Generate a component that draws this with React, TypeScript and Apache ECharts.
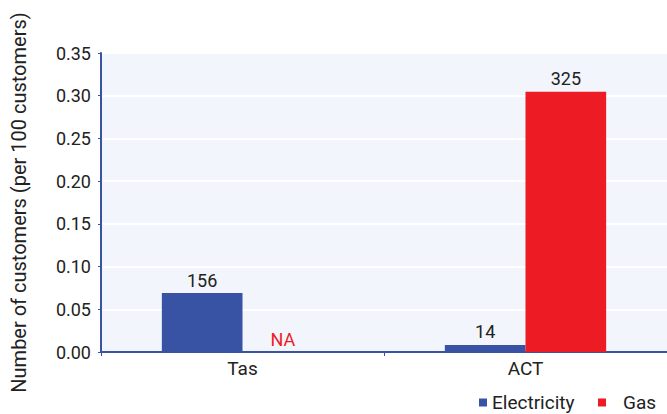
import React, { useEffect, useRef } from "react";
import * as echarts from "echarts";

// Regions on the category axis
const regions = ["Tas", "ACT"];
// Rate per 100 customers (bar heights)
const electricityRate = [0.069, 0.0082];
const gasRate: (number | null)[] = [0, 0.3045];
// Customer counts shown above the bars (null = not available)
const electricityCount: (number | null)[] = [156, 14];
const gasCount: (number | null)[] = [null, 325];
// Value axis ticks
const yMin = 0;
const yMax = 0.35;
const yStep = 0.05;

const BLUE = "#3853a4";
const RED = "#ed1c24";
const FONT = "Roboto, 'DejaVu Sans', sans-serif";

export default function App() {
  const ref = useRef<HTMLDivElement>(null);

  useEffect(() => {
    document.body.style.margin = "0";
    if (!ref.current) return;
    const chart = echarts.init(ref.current, undefined, { renderer: "svg" });

    const countLabel = (counts: (number | null)[]) => ({
      show: true,
      position: "top" as const,
      distance: 4,
      fontFamily: FONT,
      fontSize: 18,
      color: "#222",
      formatter: (p: any) => {
        const c = counts[p.dataIndex];
        return c === null ? "{na|NA}" : String(c);
      },
      rich: { na: { color: RED, fontSize: 18, fontFamily: FONT } },
    });

    const legendText = { fontSize: 19, color: "#222", fontFamily: FONT };

    chart.setOption({
      animation: false,
      textStyle: { fontFamily: FONT },
      grid: {
        left: 101,
        top: 53,
        width: 570,
        height: 299,
        show: true,
        backgroundColor: "#f2f5fb",
        borderWidth: 0,
      },
      legend: [
        {
          data: ["Electricity"],
          left: 474,
          top: 388,
          icon: "rect",
          itemWidth: 8,
          itemHeight: 8,
          textStyle: legendText,
        },
        {
          data: ["Gas"],
          left: 593,
          top: 388,
          icon: "rect",
          itemWidth: 8,
          itemHeight: 8,
          textStyle: { ...legendText, padding: [0, 0, 0, 12] },
        },
      ],
      xAxis: {
        type: "category",
        data: regions,
        axisLine: { lineStyle: { color: BLUE, width: 2 } },
        axisTick: { show: true, length: 4, lineStyle: { color: BLUE } },
        axisLabel: { fontSize: 19, color: "#222", margin: 7, fontFamily: FONT },
      },
      yAxis: {
        type: "value",
        min: yMin,
        max: yMax,
        interval: yStep,
        name: "Number of customers (per 100 customers)",
        nameLocation: "middle",
        nameGap: 72,
        nameTextStyle: { fontSize: 20, color: "#222", fontFamily: FONT },
        axisLine: { show: true, lineStyle: { color: BLUE, width: 2 } },
        axisTick: { show: true, length: 3, lineStyle: { color: BLUE } },
        axisLabel: {
          fontSize: 18,
          color: "#222",
          margin: 10,
          fontFamily: FONT,
          formatter: (v: number) => v.toFixed(2),
        },
        splitLine: { show: true, lineStyle: { color: "#ffffff", width: 2 } },
      },
      series: [
        {
          name: "Electricity",
          type: "bar",
          data: electricityRate,
          barGap: "0%",
          barCategoryGap: "43%",
          itemStyle: { color: BLUE },
          label: countLabel(electricityCount),
        },
        {
          name: "Gas",
          type: "bar",
          data: gasRate,
          itemStyle: { color: RED },
          label: countLabel(gasCount),
        },
      ],
    });

    return () => chart.dispose();
  }, []);

  return <div ref={ref} style={{ width: 667, height: 414 }} />;
}
